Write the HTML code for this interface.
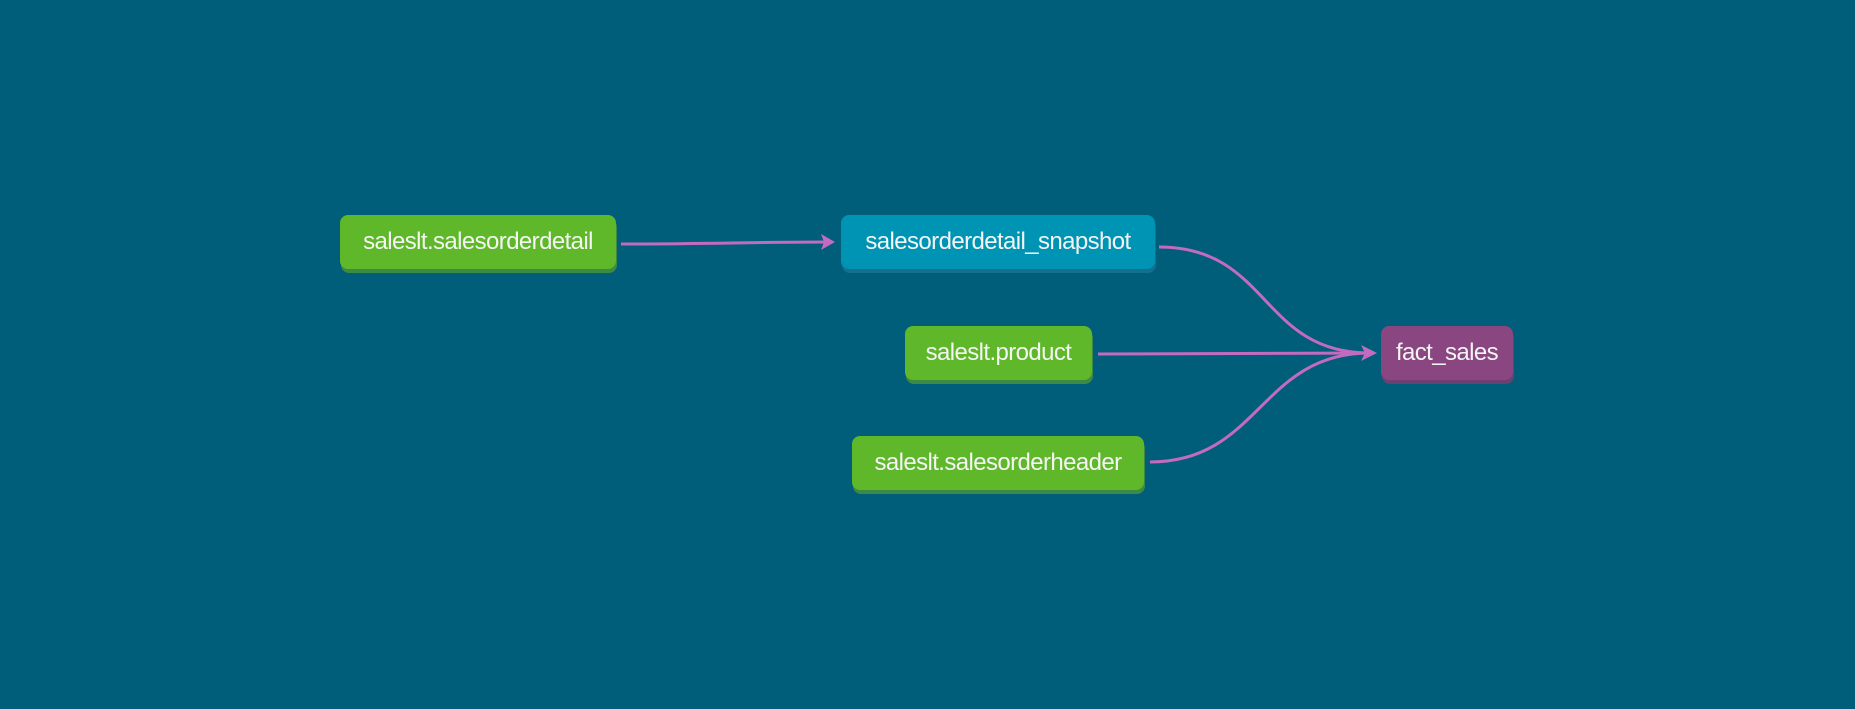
<!DOCTYPE html>
<html><head><meta charset="utf-8"><style>
body{margin:0;width:1855px;height:709px;background:#005e7a;overflow:hidden;position:relative;font-family:"Liberation Sans",sans-serif}
.n{position:absolute;height:54px;border-radius:8px;color:#f4f4f4;font-size:24px;line-height:54px;text-align:center;letter-spacing:-0.6px}
.g{background:#5eb829;box-shadow:1px 4px 0 #3d8a44}
.b{background:#0094b4;box-shadow:1px 4px 0 #13708e}
.p{background:#8a4680;box-shadow:1px 4px 0 #6a4170}
svg{position:absolute;left:0;top:0}
</style></head><body>
<svg width="1855" height="709">
<g fill="none" stroke="#c26bbf" stroke-width="3">
<path d="M621 244 C700 244 760 242 828 242"/>
<path d="M1159 247 C1270 247 1260 353 1370 353"/>
<path d="M1098 354 L1370 353"/>
<path d="M1150 462 C1260 462 1260 353 1370 353"/>
</g>
<path d="M1376 242 L1362 234 L1365 242 L1362 250 Z" fill="#c26bbf" transform="translate(-541 0)"/>
<path d="M1377 353 L1361 345 L1365 353 L1361 361 Z" fill="#c26bbf"/>
</svg>
<div class="n g" style="left:340px;top:215px;width:276px">saleslt.salesorderdetail</div>
<div class="n b" style="left:841px;top:215px;width:314px">salesorderdetail_snapshot</div>
<div class="n g" style="left:905px;top:326px;width:187px">saleslt.product</div>
<div class="n g" style="left:852px;top:436px;width:292px">saleslt.salesorderheader</div>
<div class="n p" style="left:1381px;top:326px;width:132px">fact_sales</div>
</body></html>
